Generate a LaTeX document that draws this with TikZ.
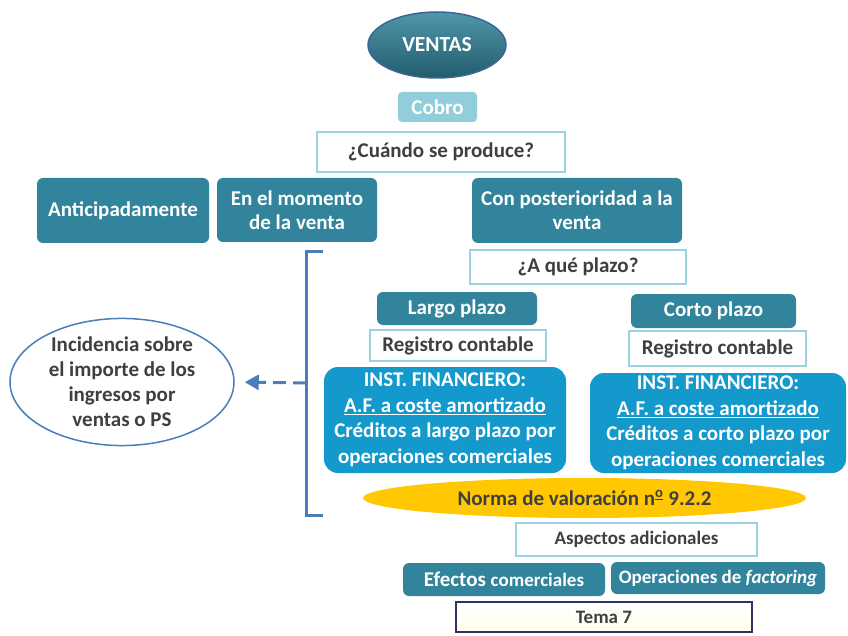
\documentclass[tikz,border=0pt]{standalone}
\usepackage{fontspec}
\setmainfont{Carlito}
\usetikzlibrary{shapes.geometric,arrows.meta}

\definecolor{tealc}{HTML}{31849B}
\definecolor{lightc}{HTML}{92CDDC}
\definecolor{framec}{HTML}{9CD3E2}
\definecolor{instc}{HTML}{1399CB}
\definecolor{bracec}{HTML}{4A7EBB}
\definecolor{txtc}{HTML}{3F3F3F}
\definecolor{normac}{HTML}{FFC800}

\tikzset{
  tealbox/.style={rounded corners=6pt, fill=tealc, text=white, align=center,
    inner sep=0pt, font=\fontsize{21}{24}\selectfont\bfseries},
  framebox/.style={draw=framec, line width=2pt, fill=white, text=txtc, align=center,
    inner sep=0pt, font=\fontsize{21}{24}\selectfont\bfseries},
  instbox/.style={rounded corners=14pt, fill=instc, text=white, align=center,
    inner sep=0pt, font=\fontsize{21}{25.5}\selectfont\bfseries},
  bracebar/.style={draw=bracec, line width=3pt},
}

\begin{document}
\begin{tikzpicture}[x=1pt,y=-1pt]
\useasboundingbox (0,0) rectangle (848,636);
%% top
\node[ellipse, draw=bracec!80!black, line width=1.5pt, top color=tealc!85!white, bottom color=tealc!70!black,
  text=white, minimum width=138pt, minimum height=66pt, font=\fontsize{21.5}{24}\selectfont\bfseries]
  (ventas) at (437,45) {VENTAS};
\node[tealbox, fill=lightc, rounded corners=4pt, minimum width=79pt, minimum height=30pt] (cobro) at (437.5,107) {Cobro};
\node[framebox, minimum width=248pt, minimum height=40pt] (cuando) at (441,152) {¿Cuándo se produce?};
%% moments
\node[tealbox, minimum width=172pt, minimum height=65pt] (antic) at (123,210.5) {Anticipadamente};
\node[tealbox, minimum width=160pt, minimum height=64pt] (momento) at (297,210) {En el momento\\de la venta};
\node[tealbox, minimum width=210pt, minimum height=65pt] (poster) at (577,210.5) {Con posterioridad a la\\venta};
\node[framebox, minimum width=216pt, minimum height=34pt] (plazo) at (578,267) {¿A qué plazo?};
%% largo plazo
\node[tealbox, minimum width=160pt, minimum height=33pt] (largo) at (457,308.5) {Largo plazo};
\node[framebox, minimum width=176pt, minimum height=31pt] (regL) at (458,345.5) {Registro contable};
\node[instbox, minimum width=242pt, minimum height=106pt] (instL) at (445,420)
  {INST. FINANCIERO:\\\underline{A.F. a coste amortizado}\\Créditos a largo plazo por\\operaciones comerciales};
%% corto plazo
\node[tealbox, minimum width=165pt, minimum height=34pt] (corto) at (713.5,311) {Corto plazo};
\node[framebox, minimum width=177pt, minimum height=35pt] (regR) at (717.5,348.5) {Registro contable};
\node[instbox, minimum width=256pt, minimum height=100pt] (instR) at (718,423)
  {INST. FINANCIERO:\\\underline{A.F. a coste amortizado}\\Créditos a corto plazo por\\operaciones comerciales};
%% bottom
\node[ellipse, fill=normac, text=txtc, inner sep=0pt, minimum width=443pt, minimum height=40pt,
  font=\fontsize{21}{24}\selectfont\bfseries] (norma) at (584.5,498)
  {Norma de valoración n\textsuperscript{\underline{o}} 9.2.2};
\node[framebox, minimum width=241pt, minimum height=33pt, font=\fontsize{19}{22}\selectfont\bfseries]
  (aspectos) at (636.5,539.5) {Aspectos adicionales};
\node[tealbox, minimum width=202pt, minimum height=33pt] (efectos) at (504,579.5)
  {Efectos {\fontsize{19}{22}\selectfont comerciales}};
\node[tealbox, minimum width=214pt, minimum height=32pt, font=\fontsize{19}{22}\selectfont\bfseries]
  (factoring) at (718,578) {Operaciones de \textit{factoring}};
\node[draw=txtc!80!blue, line width=1.8pt, top color=white, bottom color=yellow!8!white, text=txtc,
  minimum width=296pt, minimum height=30pt, inner sep=0pt, font=\fontsize{19}{22}\selectfont\bfseries]
  (tema) at (604,617) {Tema 7};
%% incidencia
\node[ellipse, draw=bracec, line width=1.5pt, fill=white, text=txtc, align=center, inner sep=0pt,
  minimum width=224pt, minimum height=116pt, font=\fontsize{21}{25}\selectfont\bfseries]
  (incid) at (122,382) {Incidencia sobre\\el importe de los\\ingresos por\\ventas o PS};
%% bracket
\coordinate (btop) at (323,252);
\coordinate (bbot) at (323,515);
\coordinate (bmid) at (306,383);
\draw[bracebar] (btop) -- (306,252) -- (306,515) -- (bbot);
\draw[bracebar, dash pattern=on 13pt off 7pt, -{Triangle[length=14pt,width=15pt]}, shorten >=10pt]
  (bmid) -- (incid.east);
\end{tikzpicture}
\end{document}
